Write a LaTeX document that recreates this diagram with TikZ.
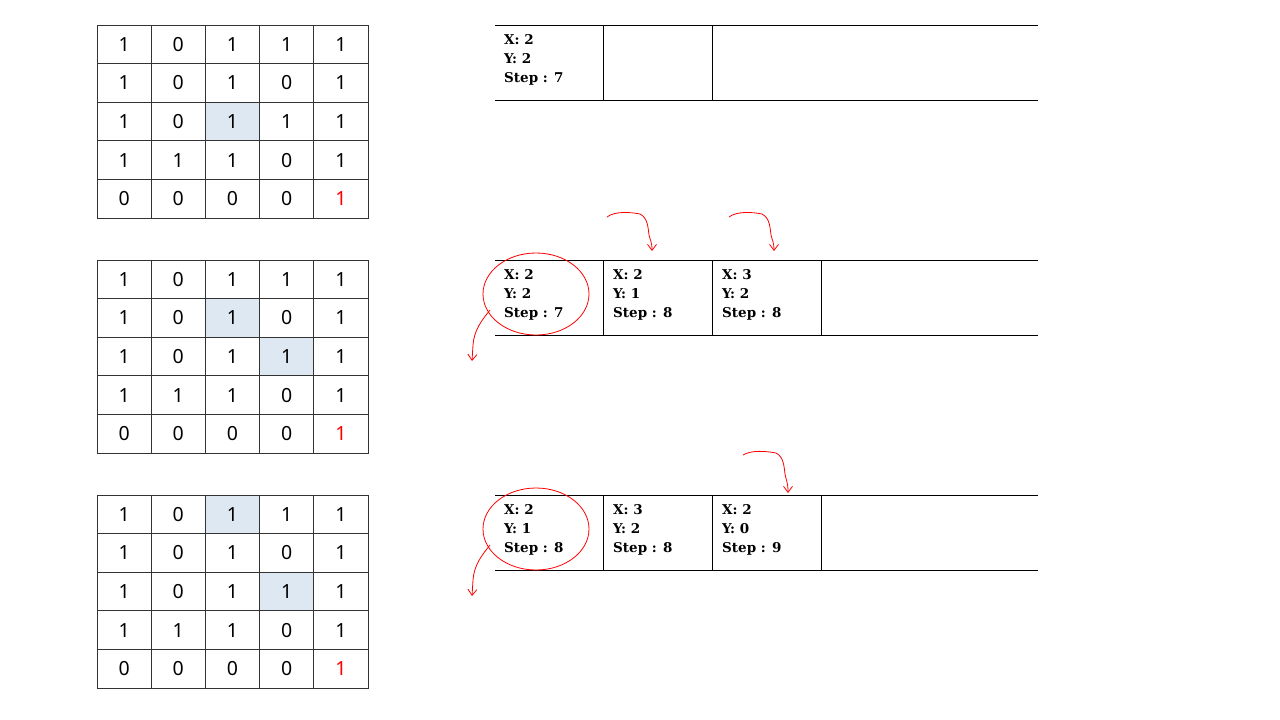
\documentclass[tikz,border=0pt]{standalone}
\usepackage{fontspec}
\setmainfont{DejaVu Serif}
\newfontfamily\gridfont{Noto Sans}
\usetikzlibrary{arrows.meta}
\definecolor{hlblue}{HTML}{DEE8F3}
\definecolor{gridgray}{HTML}{333333}
\begin{document}
\begin{tikzpicture}[x=1pt,y=-1pt,
  cell/.style={draw=gridgray, line width=0.9pt, minimum width=54.2pt, minimum height=38.6pt, inner sep=0pt, font=\gridfont\fontsize{19.5}{19.5}\selectfont},
  qline/.style={draw=black, line width=0.9pt},
  qtext/.style={anchor=west, align=left, inner sep=0pt, font=\bfseries\fontsize{13.5}{19}\selectfont},
  redmark/.style={draw=red, line width=0.8pt},
  redarrow/.style={draw=red, line width=0.8pt, -{Straight Barb[length=6pt,width=9pt]}}
]
\useasboundingbox (0,0) rectangle (1280,720);
\fill[white] (0,0) rectangle (1280,720);

% highlighted cells
\fill[hlblue] (206,102.2) rectangle (260.2,140.8);
\fill[hlblue] (206,298.6) rectangle (260.2,337.2);
\fill[hlblue] (260.2,337.2) rectangle (314.4,375.8);
\fill[hlblue] (206,495) rectangle (260.2,533.6);
\fill[hlblue] (260.2,572.2) rectangle (314.4,610.8);

% grids
\foreach \g/\gy in {1/25,2/260,3/495}{
  \foreach \row/\vals in {0/{1,0,1,1,1},1/{1,0,1,0,1},2/{1,0,1,1,1},3/{1,1,1,0,1},4/{0,0,0,0}}{
    \foreach \v [count=\c from 0] in \vals {
      \node[cell] (g\g-\row-\c) at ({124.1+54.2*\c},{\gy+19.3+38.6*\row}) {\v};
    }
  }
  \node[cell, text=red] (g\g-4-4) at ({124.1+54.2*4},{\gy+19.3+38.6*4}) {1};
}

% queue 1
\draw[qline] (495,25) -- (1038,25);
\draw[qline] (495,100) -- (1038,100);
\draw[qline] (603,25) -- (603,100);
\draw[qline] (712,25) -- (712,100);
\node[qtext] (q1a) at (504,60) {X: 2\\Y: 2\\Step : 7};

% queue 2
\draw[qline] (495,260) -- (1038,260);
\draw[qline] (495,335) -- (1038,335);
\draw[qline] (603,260) -- (603,335);
\draw[qline] (712,260) -- (712,335);
\draw[qline] (821,260) -- (821,335);
\node[qtext] (q2a) at (504,295) {X: 2\\Y: 2\\Step : 7};
\node[qtext] (q2b) at (613,295) {X: 2\\Y: 1\\Step : 8};
\node[qtext] (q2c) at (722,295) {X: 3\\Y: 2\\Step : 8};

% queue 3
\draw[qline] (495,495) -- (1038,495);
\draw[qline] (495,570) -- (1038,570);
\draw[qline] (603,495) -- (603,570);
\draw[qline] (712,495) -- (712,570);
\draw[qline] (821,495) -- (821,570);
\node[qtext] (q3a) at (504,530) {X: 2\\Y: 1\\Step : 8};
\node[qtext] (q3b) at (613,530) {X: 3\\Y: 2\\Step : 8};
\node[qtext] (q3c) at (722,530) {X: 2\\Y: 0\\Step : 9};

% red marks
\draw[redmark] (536,294) ellipse [x radius=53, y radius=41];
\draw[redmark] (536,529) ellipse [x radius=53, y radius=41];

\coordinate (a1s) at (607,217); \coordinate (a1e) at (652,251);
\coordinate (a2s) at (729,217); \coordinate (a2e) at (774,251);
\coordinate (a3s) at (490,310); \coordinate (a3e) at (472,361);
\coordinate (a4s) at (743,455); \coordinate (a4e) at (788,493);
\coordinate (a5s) at (490,545); \coordinate (a5e) at (472,596);

\draw[redarrow] (a1s) .. controls (615,211) and (630,212) .. (640,214) .. controls (648,218) and (648,228) .. (649,235) .. controls (650,240) and (652,242) .. (a1e);
\draw[redarrow] (a2s) .. controls (737,211) and (752,212) .. (762,214) .. controls (770,218) and (770,228) .. (771,235) .. controls (772,240) and (774,242) .. (a2e);
\draw[redarrow] (a4s) .. controls (751,450) and (766,451) .. (776,453) .. controls (784,457) and (784,467) .. (785,474) .. controls (786,480) and (788,482) .. (a4e);
\draw[redarrow] (a3s) .. controls (482,320) and (474,330) .. (473,345) -- (a3e);
\draw[redarrow] (a5s) .. controls (482,555) and (474,565) .. (473,580) -- (a5e);
\end{tikzpicture}
\end{document}
